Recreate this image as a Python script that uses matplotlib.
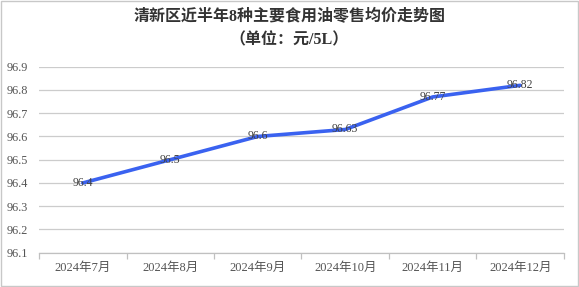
import matplotlib
matplotlib.use("Agg")
import matplotlib.pyplot as plt
from matplotlib.patches import Rectangle

categories = ["2024年7月", "2024年8月", "2024年9月", "2024年10月", "2024年11月", "2024年12月"]
values = [96.4, 96.5, 96.6, 96.63, 96.77, 96.82]
value_labels = ["96.4", "96.5", "96.6", "96.63", "96.77", "96.82"]
yticks = [96.1, 96.2, 96.3, 96.4, 96.5, 96.6, 96.7, 96.8, 96.9]
title_lines = ["清新区近半年8种主要食用油零售均价走势图", "（单位：元/5L）"]

fam = ["Liberation Serif", "Noto Sans CJK SC"]

fig = plt.figure(figsize=(5.79, 2.87), dpi=100)
fig.patch.set_facecolor("white")
fig.patches.append(Rectangle((0.001, 0.002), 0.997, 0.995, transform=fig.transFigure,
                             fill=False, edgecolor="#c8c8c8", linewidth=1.0))

ax = fig.add_axes([0.0674, 0.1195, 0.9066, 0.648])
x = list(range(len(categories)))
ax.plot(x, values, color="#3a62f0", linewidth=2.6, solid_capstyle="round", zorder=3)
for xi, v, lab in zip(x, values, value_labels):
    ax.text(xi, v, lab, ha="center", va="center", fontsize=8.5, color="#404040",
            family=fam, zorder=4)

ax.set_xlim(-0.5, len(categories) - 0.5)
ax.set_ylim(96.1, 96.9)
ax.set_yticks(yticks)
ax.set_yticklabels([f"{t:.1f}" for t in yticks], family=fam, fontsize=8.8, color="#555555")
ax.yaxis.grid(True, color="#cccccc", linewidth=0.9)
ax.set_axisbelow(True)
ax.tick_params(axis="y", length=0, pad=8)

ax.set_xticks(x)
ax.set_xticklabels(categories, family=fam, fontsize=9, color="#555555")
ax.set_xticks([i - 0.5 for i in range(len(categories) + 1)], minor=True)
ax.tick_params(axis="x", which="major", length=0, pad=7)
ax.tick_params(axis="x", which="minor", length=4, color="#c0c0c0", width=0.9)

for s in ["top", "right", "left"]:
    ax.spines[s].set_visible(False)
ax.spines["bottom"].set_color("#c0c0c0")
ax.spines["bottom"].set_linewidth(0.9)

fig.text(0.5, 0.94, title_lines[0], ha="center", va="center", fontsize=11.5,
         fontweight="bold", family=fam, color="#333333")
fig.text(0.5, 0.86, title_lines[1], ha="center", va="center", fontsize=11.5,
         fontweight="bold", family=fam, color="#333333")

fig.savefig("out.png", dpi=100, facecolor="white")
